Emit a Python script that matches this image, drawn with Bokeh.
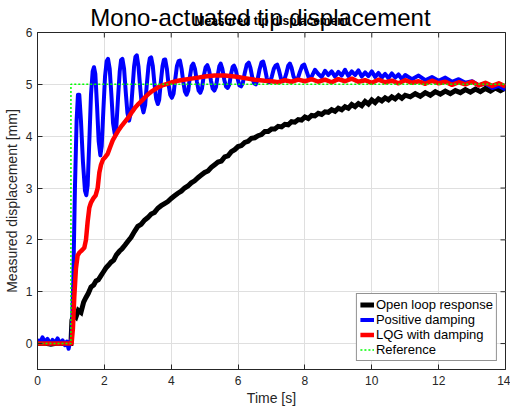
from bokeh.plotting import figure
from bokeh.models import LinearAxis, FixedTicker, Legend, LegendItem, Range1d
from bokeh.embed import file_html
from bokeh.resources import INLINE

# ---------------- data ----------------
ref_t = [0.0, 1.0, 1.0, 14.0]
ref_v = [0.0, 0.0, 5.0, 5.0]

open_t = [0.0, 0.2, 0.4, 0.6, 0.8, 1.0, 1.03, 1.08, 1.15, 1.22, 1.30, 1.38, 1.45, 1.52, 1.60, 1.68,
          1.75, 1.82, 1.90, 1.98, 2.05, 2.12, 2.20, 2.28, 2.36, 2.45, 2.53, 2.62, 2.70, 2.80, 2.90,
          3.00, 3.10, 3.20, 3.30, 3.40, 3.50, 3.60, 3.70, 3.80, 3.90, 4.00, 4.10, 4.20, 4.30, 4.40,
          4.50, 4.60, 4.70, 4.80, 4.90, 5.00, 5.10, 5.20, 5.30, 5.40, 5.50, 5.60, 5.70, 5.80, 5.90,
          6.00, 6.10, 6.20, 6.30, 6.40, 6.50, 6.60, 6.70, 6.80, 6.90, 7.00, 7.10, 7.20, 7.30, 7.40,
          7.50, 7.60, 7.70, 7.80, 7.90, 8.00, 8.10, 8.20, 8.30, 8.40, 8.50, 8.60, 8.70, 8.80, 8.90,
          9.00, 9.10, 9.20, 9.30, 9.40, 9.50, 9.60, 9.70, 9.80, 9.90, 10.00, 10.10, 10.20, 10.30,
          10.40, 10.50, 10.60, 10.70, 10.80, 10.90, 11.00, 11.15, 11.30, 11.45, 11.60, 11.75, 11.90,
          12.05, 12.20, 12.35, 12.50, 12.65, 12.80, 12.95, 13.10, 13.25, 13.40, 13.55, 13.70, 13.85, 14.00]
open_v = [0.0, 0.01, -0.01, 0.01, 0.0, 0.0, 0.45, 0.55, 0.51, 0.64, 0.60, 0.80, 0.89, 0.97, 1.09, 1.13,
          1.21, 1.23, 1.31, 1.39, 1.46, 1.51, 1.57, 1.61, 1.71, 1.78, 1.83, 1.90, 1.97, 2.05, 2.16,
          2.26, 2.30, 2.38, 2.43, 2.50, 2.53, 2.61, 2.66, 2.70, 2.74, 2.80, 2.85, 2.90, 2.94, 3.00,
          3.04, 3.10, 3.14, 3.20, 3.25, 3.30, 3.33, 3.40, 3.45, 3.50, 3.52, 3.60, 3.62, 3.70, 3.74,
          3.80, 3.82, 3.88, 3.90, 3.96, 3.97, 4.01, 4.03, 4.09, 4.09, 4.14, 4.14, 4.19, 4.18, 4.23,
          4.22, 4.28, 4.27, 4.32, 4.31, 4.37, 4.34, 4.40, 4.39, 4.44, 4.42, 4.47, 4.46, 4.51, 4.48,
          4.54, 4.51, 4.57, 4.54, 4.61, 4.57, 4.63, 4.59, 4.67, 4.62, 4.70, 4.65, 4.72, 4.68,
          4.74, 4.70, 4.76, 4.72, 4.78, 4.73, 4.79, 4.76, 4.82, 4.77, 4.84, 4.79, 4.86,
          4.81, 4.87, 4.82, 4.88, 4.84, 4.90, 4.85, 4.91, 4.86, 4.92, 4.87, 4.93, 4.88, 4.93]

pos_t = [0.00, 0.08, 0.15, 0.22, 0.30, 0.38, 0.45, 0.52, 0.60, 0.68, 0.75, 0.82, 0.88, 0.93, 0.97,
         1.02, 1.07, 1.12, 1.17, 1.21, 1.25, 1.30, 1.36, 1.42, 1.46, 1.50, 1.55, 1.60, 1.65, 1.69,
         1.73, 1.78, 1.83, 1.88, 1.92, 1.97, 2.02, 2.07, 2.11, 2.16, 2.21, 2.26, 2.31, 2.36, 2.41,
         2.46, 2.50, 2.54, 2.59, 2.64, 2.69, 2.74, 2.79, 2.84, 2.89, 2.93, 2.97, 3.02, 3.07, 3.12,
         3.17, 3.22, 3.27, 3.32, 3.36, 3.40, 3.45, 3.50, 3.55, 3.60, 3.64, 3.69, 3.74, 3.78, 3.82,
         3.87, 3.92, 3.97, 4.02, 4.07, 4.12, 4.17, 4.22, 4.26, 4.31, 4.36, 4.41, 4.46, 4.51, 4.56,
         4.61, 4.66, 4.71, 4.77, 4.82, 4.87, 4.92, 4.97, 5.03, 5.08, 5.13, 5.19, 5.24, 5.29, 5.34,
         5.39, 5.44, 5.48, 5.53, 5.59, 5.64, 5.69, 5.74, 5.79, 5.84, 5.88, 5.93, 5.99, 6.04, 6.09,
         6.14, 6.20, 6.26, 6.32, 6.37, 6.43, 6.48, 6.53, 6.58, 6.64, 6.70, 6.75, 6.80, 6.86, 6.91,
         6.96, 7.01, 7.07, 7.12, 7.17, 7.22, 7.28, 7.33, 7.38, 7.44, 7.50, 7.55, 7.60, 7.66, 7.72,
         7.78, 7.85, 7.92, 7.98, 8.05, 8.12, 8.20, 8.30, 8.40, 8.50, 8.60, 8.70, 8.80, 8.90, 9.00,
         9.10, 9.20, 9.30, 9.40, 9.50, 9.60, 9.70, 9.80, 9.90, 10.00, 10.10, 10.20, 10.30, 10.40,
         10.50, 10.60, 10.70, 10.80, 10.90, 11.00, 11.20, 11.40, 11.60, 11.80, 12.00, 12.20, 12.40,
         12.60, 12.80, 13.00, 13.20, 13.40, 13.60, 13.80, 14.00]
pos_v = [0.08, 0.02, 0.12, 0.03, 0.09, -0.01, 0.07, 0.01, 0.10, 0.00, 0.06, -0.03, 0.04, -0.10, 0.02,
         0.10, 1.20, 3.00, 4.30, 4.80, 4.80, 4.30, 3.50, 2.95, 2.86, 3.05, 3.90, 4.80, 5.25, 5.33,
         5.20, 4.60, 3.90, 3.63, 3.80, 4.50, 5.15, 5.45, 5.49, 5.30, 4.80, 4.25, 4.05, 4.20, 4.75,
         5.25, 5.47, 5.49, 5.30, 4.85, 4.45, 4.30, 4.45, 4.90, 5.35, 5.53, 5.56, 5.35, 4.95, 4.60,
         4.46, 4.60, 5.00, 5.35, 5.50, 5.52, 5.35, 5.00, 4.72, 4.62, 4.70, 5.05, 5.35, 5.47, 5.48,
         5.30, 5.00, 4.80, 4.74, 4.82, 5.10, 5.35, 5.45, 5.46, 5.30, 5.05, 4.86, 4.80, 4.88, 5.15,
         5.35, 5.40, 5.30, 5.05, 4.88, 4.84, 4.92, 5.15, 5.33, 5.37, 5.28, 5.07, 4.92, 4.88, 4.95,
         5.17, 5.35, 5.40, 5.30, 5.08, 4.96, 4.93, 5.00, 5.20, 5.34, 5.36, 5.28, 5.10, 4.98, 4.96,
         5.02, 5.22, 5.38, 5.42, 5.32, 5.12, 5.02, 5.00, 5.08, 5.28, 5.42, 5.44, 5.32, 5.12, 5.04,
         5.05, 5.15, 5.30, 5.36, 5.38, 5.28, 5.12, 5.06, 5.08, 5.20, 5.36, 5.40, 5.32, 5.15, 5.08,
         5.10, 5.24, 5.36, 5.38, 5.25, 5.12, 5.15, 5.28, 5.20, 5.14, 5.26, 5.18, 5.25, 5.15, 5.24,
         5.17, 5.28, 5.16, 5.25, 5.18, 5.27, 5.15, 5.23, 5.16, 5.25, 5.14, 5.22, 5.13, 5.20,
         5.12, 5.21, 5.13, 5.19, 5.10, 5.18, 5.10, 5.17, 5.08, 5.14, 5.07, 5.13, 5.05,
         5.10, 5.03, 5.06, 4.98, 5.02, 4.93, 4.97, 4.90]

lqg_t = [0.0, 1.02, 1.06, 1.10, 1.15, 1.20, 1.26, 1.33, 1.40, 1.45, 1.50, 1.55, 1.60, 1.67, 1.74,
         1.80, 1.85, 1.90, 1.96, 2.03, 2.10, 2.18, 2.25, 2.33, 2.43, 2.53, 2.63, 2.73, 2.83, 2.93,
         3.03, 3.13, 3.23, 3.33, 3.43, 3.53, 3.63, 3.73, 3.88, 4.03, 4.20, 4.38, 4.60, 4.80, 5.00,
         5.30, 5.60, 5.90, 6.20, 6.50, 6.80, 7.00, 7.20, 7.40, 7.60, 7.80, 8.00, 8.20, 8.40, 8.60,
         8.80, 9.00, 9.20, 9.40, 9.60, 9.80, 10.00, 10.20, 10.40, 10.60, 10.80, 11.00, 11.20, 11.40,
         11.60, 11.80, 12.00, 12.20, 12.40, 12.60, 12.80, 13.00, 13.20, 13.40, 13.60, 13.80, 14.00]
lqg_v = [0.0, 0.0, 0.30, 0.90, 1.45, 1.70, 1.76, 1.80, 1.85, 2.00, 2.35, 2.62, 2.72, 2.80, 2.86,
         3.00, 3.30, 3.45, 3.55, 3.60, 3.66, 3.80, 3.92, 4.01, 4.12, 4.21, 4.29, 4.37, 4.47, 4.56,
         4.63, 4.69, 4.76, 4.82, 4.87, 4.91, 4.95, 4.98, 5.01, 5.04, 5.07, 5.09, 5.11, 5.13, 5.15,
         5.17, 5.17, 5.15, 5.12, 5.09, 5.07, 5.06, 5.04, 5.08, 5.05, 5.09, 5.06, 5.10, 5.05, 5.09,
         5.04, 5.10, 5.06, 5.11, 5.05, 5.08, 5.03, 5.09, 5.04, 5.07, 5.02, 5.08, 5.03, 5.06,
         5.01, 5.07, 5.02, 5.05, 4.99, 5.04, 5.00, 5.05, 4.98, 5.03, 4.97, 5.02, 4.96]

x_ticks = [0, 2, 4, 6, 8, 10, 12, 14]
y_ticks = [0, 1, 2, 3, 4, 5, 6]
x_lim = [0, 14]
y_lim = [-0.5, 6]

title_text = "Mono-actuated tip displacement"
subtitle_text = "Measured tip displacement"
title_anchor = 6.67   # x (in data units) where the big title is centred

FONT = "Liberation Sans"
DARK = "#262626"

p = figure(width=510, height=409, output_backend="svg", toolbar_location=None,
           x_range=Range1d(*x_lim), y_range=Range1d(*y_lim),
           min_border_left=37, min_border_right=5, min_border_top=32, min_border_bottom=40,
           background_fill_color="white", border_fill_color="white")

p.outline_line_color = DARK
p.outline_line_width = 1

for ax in p.xaxis + p.yaxis:
    ax.major_tick_in = 5
    ax.major_tick_out = 0
    ax.minor_tick_line_color = None
    ax.axis_line_color = DARK
    ax.major_tick_line_color = DARK
    ax.major_label_text_font = FONT
    ax.major_label_text_font_size = "12px"
    ax.major_label_text_color = DARK
    ax.axis_label_text_font = FONT
    ax.axis_label_text_font_size = "14px"
    ax.axis_label_text_font_style = "normal"
    ax.axis_label_text_color = DARK

p.xaxis.ticker = FixedTicker(ticks=x_ticks)
p.yaxis.ticker = FixedTicker(ticks=y_ticks)
p.xaxis.axis_label = "Time [s]"
p.yaxis.axis_label = "Measured displacement [mm]"
p.xaxis.major_label_standoff = 6
p.yaxis.major_label_standoff = 5
p.xaxis.axis_label_standoff = 2
p.yaxis.axis_label_standoff = 3

# top axis carries the two overlapping titles (big one as a tick label, bold one as axis label)
top = LinearAxis(ticker=FixedTicker(ticks=[title_anchor]),
                 major_label_overrides={title_anchor: title_text},
                 major_label_text_font=FONT, major_label_text_font_size="24px",
                 major_label_text_color="black", major_label_standoff=2,
                 major_tick_in=0, major_tick_out=0, major_tick_line_color=None,
                 minor_tick_line_color=None, axis_line_color=None,
                 axis_label=subtitle_text, axis_label_text_font=FONT,
                 axis_label_text_font_size="12px", axis_label_text_font_style="bold",
                 axis_label_text_color="black", axis_label_standoff=-27)
p.add_layout(top, "above")

p.xgrid.ticker = FixedTicker(ticks=x_ticks)
p.ygrid.ticker = FixedTicker(ticks=y_ticks)
p.grid.grid_line_color = "#dfdfdf"
p.grid.grid_line_width = 1

# mirrored inward ticks on top and right edges (dash markers clipped by the frame)
p.scatter(x_ticks, [y_lim[1]] * len(x_ticks), marker="dash", size=10, angle=1.5707963,
          line_color=DARK, line_width=1)
p.scatter([x_lim[1]] * len(y_ticks), y_ticks, marker="dash", size=10,
          line_color=DARK, line_width=1)

r_open = p.line(open_t, open_v, line_color="black", line_width=5, line_join="miter")
r_pos = p.line(pos_t, pos_v, line_color="#0000ff", line_width=4, line_join="round")
r_lqg = p.line(lqg_t, lqg_v, line_color="#ff0000", line_width=4.5, line_join="round")
r_ref = p.line(ref_t, ref_v, line_color="#00ff00", line_width=1.5, line_dash="2 2")

legend = Legend(items=[
    LegendItem(label="Open loop response", renderers=[r_open]),
    LegendItem(label="Positive damping", renderers=[r_pos]),
    LegendItem(label="LQG with damping", renderers=[r_lqg]),
    LegendItem(label="Reference", renderers=[r_ref]),
], location="bottom_right")
legend.margin = 8
legend.padding = 3
legend.spacing = 0
legend.label_height = 15
legend.glyph_height = 15
legend.glyph_width = 14
legend.label_standoff = 2
legend.label_text_font = FONT
legend.label_text_font_size = "13px"
legend.label_text_color = "black"
legend.border_line_color = DARK
legend.border_line_width = 1
legend.background_fill_alpha = 1
p.add_layout(legend, "center")

open("out.html", "w").write(file_html(p, INLINE))
